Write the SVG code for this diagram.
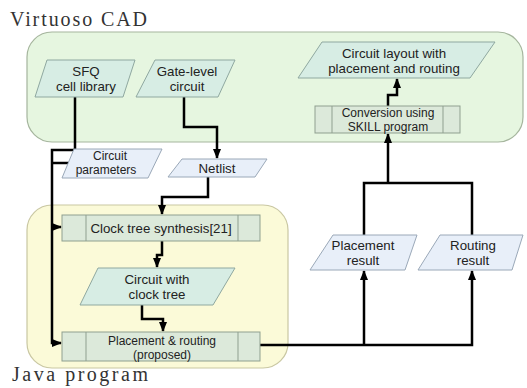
<svg xmlns="http://www.w3.org/2000/svg" width="527" height="388" viewBox="0 0 527 388">
<defs>
<marker id="ah" markerUnits="userSpaceOnUse" markerWidth="10" markerHeight="8" refX="9" refY="4" orient="auto">
<path d="M0,0 L10,4 L0,8 z" fill="#000"/>
</marker>
<style>
.title{font-family:"Liberation Serif","Times New Roman",serif;font-size:20px;fill:#333}
.lbl{font-family:"Liberation Sans",Arial,sans-serif;font-size:13.3px;fill:#222;text-anchor:middle}
.sm{font-size:12px}
.data{fill:#d7ede4;stroke:#8fa8a0;stroke-width:1}
.data2{fill:#e8eff9;stroke:#9aa8b8;stroke-width:1}
.proc{fill:#dce9da;stroke:#8f9f8f;stroke-width:1}
.inner{stroke:#8f9f8f;stroke-width:1}
.conn{fill:none;stroke:#000;stroke-width:2.5}
</style>
</defs>
<rect width="527" height="388" fill="#fff"/>
<g id="virtuoso">
<rect x="27" y="32" width="496" height="110" rx="25" fill="#e6f6e0" stroke="#a5b59d" stroke-width="1.2"/>
<text class="title" x="10" y="26" textLength="137" lengthAdjust="spacing">Virtuoso CAD</text>
</g>
<g id="java">
<rect x="27" y="205" width="261" height="163" rx="25" fill="#fbfad8" stroke="#c9c7a2" stroke-width="1.2"/>
<text class="title" x="12" y="381" textLength="136" lengthAdjust="spacing">Java program</text>
</g>
<g id="connectors">
<polyline class="conn" points="75,97 75,150 52,150 52,343 61,343" marker-end="url(#ah)"/>
<polyline class="conn" points="52,227 61,227" marker-end="url(#ah)"/>
<polyline class="conn" points="52,163 69,163"/>
<polyline class="conn" points="184,97 184,127 217,127 217,158" marker-end="url(#ah)"/>
<polyline class="conn" points="208,177 208,197 162,197 162,214" marker-end="url(#ah)"/>
<polyline class="conn" points="162,241 162,255 157,255 157,267" marker-end="url(#ah)"/>
<polyline class="conn" points="142,305 142,319 163,319 163,331" marker-end="url(#ah)"/>
<polyline class="conn" points="260,345 472,345 472,271" marker-end="url(#ah)"/>
<polyline class="conn" points="364,345 364,271" marker-end="url(#ah)"/>
<polyline class="conn" points="364,235 364,183 472,183 472,235"/>
<polyline class="conn" points="388,183 388,134" marker-end="url(#ah)"/>
<polyline class="conn" points="388,106 388,95 397,95 397,79" marker-end="url(#ah)"/>
</g>
<g id="sfq">
<polygon class="data" points="47,60 135,60 123,97 35,97"/>
<text class="lbl" x="86" y="76">SFQ</text>
<text class="lbl" x="86" y="91">cell library</text>
</g>
<g id="gate">
<polygon class="data" points="155,60 235,60 218,97 136,97"/>
<text class="lbl" x="187" y="76">Gate-level</text>
<text class="lbl" x="187" y="91">circuit</text>
</g>
<g id="layout">
<polygon class="data" points="322,42 495,42 470,78 298,78"/>
<text class="lbl" x="394" y="58">Circuit layout with</text>
<text class="lbl" x="394" y="73">placement and routing</text>
</g>
<g id="conversion">
<rect class="proc" x="315" y="106" width="145" height="27"/>
<line class="inner" x1="332" y1="106" x2="332" y2="133"/>
<line class="inner" x1="443" y1="106" x2="443" y2="133"/>
<text class="lbl sm" x="388" y="117">Conversion using</text>
<text class="lbl sm" x="388" y="131">SKILL program</text>
</g>
<g id="params">
<polygon class="data2" points="74,149 162,149 148,178 62,178"/>
<text class="lbl sm" x="110" y="160">Circuit</text>
<text class="lbl sm" x="106" y="174">parameters</text>
</g>
<g id="netlist">
<polygon class="data2" points="182,159 267,159 255,177 168,177"/>
<text class="lbl" x="217" y="173">Netlist</text>
</g>
<g id="cts">
<rect class="proc" x="62" y="215" width="198" height="26"/>
<line class="inner" x1="86" y1="215" x2="86" y2="241"/>
<line class="inner" x1="238" y1="215" x2="238" y2="241"/>
<text class="lbl" x="161" y="233">Clock tree synthesis[21]</text>
</g>
<g id="cwct">
<polygon class="data" points="98,268 235,268 213,305 80,305"/>
<text class="lbl" x="157" y="284">Circuit with</text>
<text class="lbl" x="157" y="299">clock tree</text>
</g>
<g id="pr">
<rect class="proc" x="62" y="332" width="198" height="29"/>
<line class="inner" x1="86" y1="332" x2="86" y2="361"/>
<line class="inner" x1="238" y1="332" x2="238" y2="361"/>
<text class="lbl sm" x="162" y="345">Placement &amp; routing</text>
<text class="lbl sm" x="162" y="359">(proposed)</text>
</g>
<g id="placement">
<polygon class="data2" points="333,235 417,235 405,270 310,270"/>
<text class="lbl" x="363" y="250">Placement</text>
<text class="lbl" x="363" y="265">result</text>
</g>
<g id="routing">
<polygon class="data2" points="440,235 523,235 512,270 418,270"/>
<text class="lbl" x="473" y="250">Routing</text>
<text class="lbl" x="473" y="265">result</text>
</g>
</svg>
